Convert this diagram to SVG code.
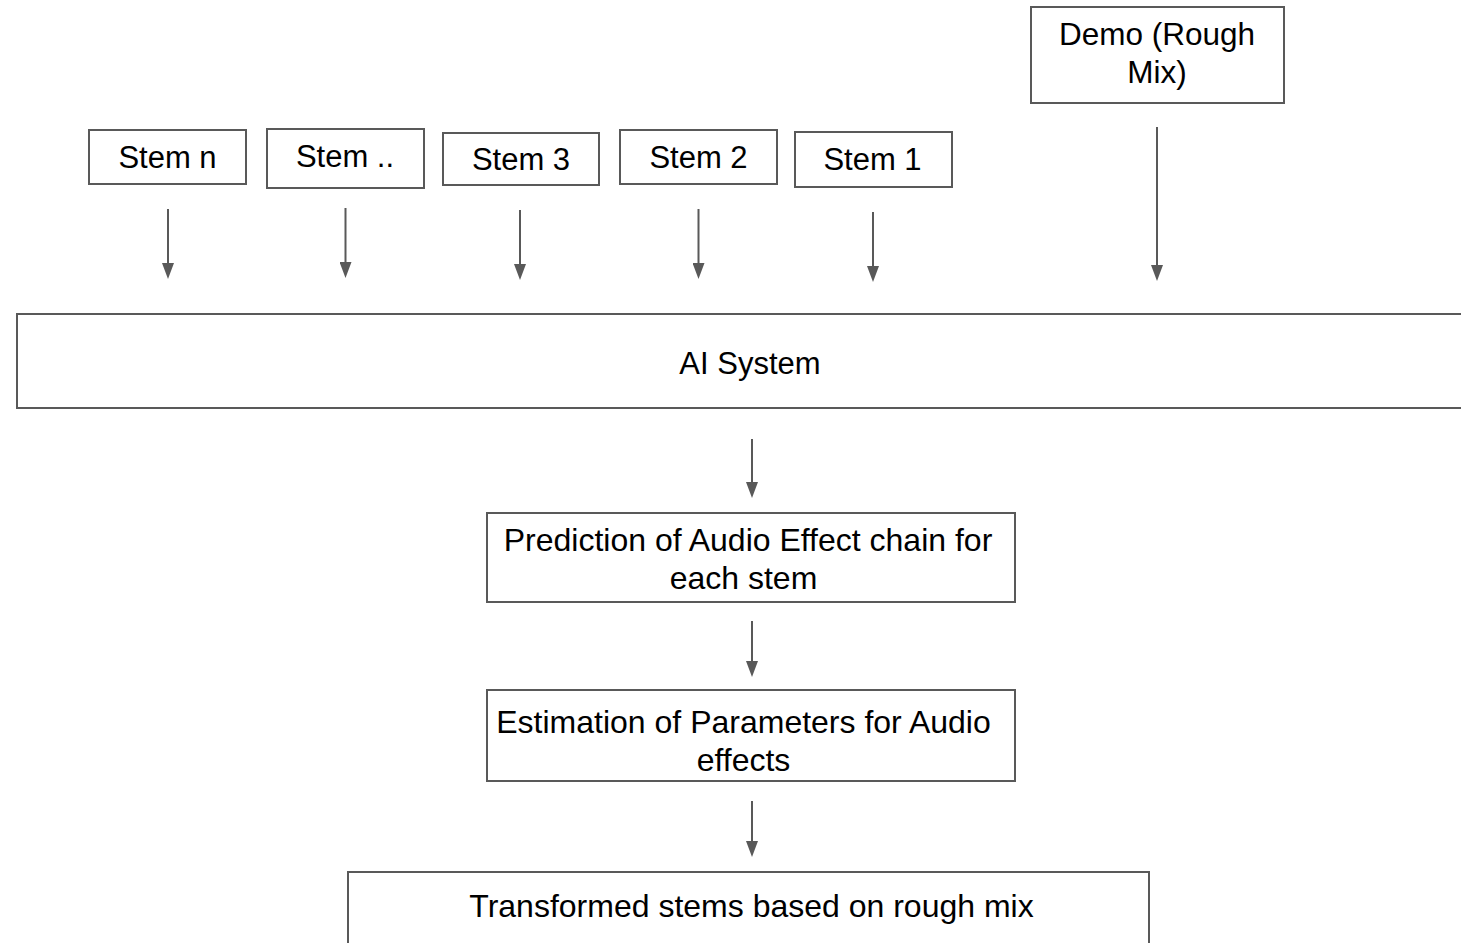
<svg xmlns="http://www.w3.org/2000/svg" width="1461" height="943" viewBox="0 0 1461 943">
<style>
.box{fill:#ffffff;stroke:#595959;stroke-width:2}
.lbl{font-family:"Liberation Sans",Arial,sans-serif;font-size:31px;fill:#000000;text-anchor:middle}
.big{font-size:32px}
.conn{stroke:#595959;stroke-width:2;fill:none}
</style>
<defs>
<marker id="ah" markerUnits="userSpaceOnUse" markerWidth="16" markerHeight="12" refX="6" refY="6" orient="auto">
<path d="M0,0 L16,6 L0,12 z" fill="#595959"/>
</marker>
</defs>
<rect width="1461" height="943" fill="#ffffff"/>
<g id="stem-n"><rect class="box" x="89" y="130" width="157" height="54"/><text class="lbl" x="167.5" y="168">Stem n</text></g>
<g id="stem-dots"><rect class="box" x="267" y="129" width="157" height="59"/><text class="lbl" x="345" y="167">Stem ..</text></g>
<g id="stem-3"><rect class="box" x="443" y="133" width="156" height="52"/><text class="lbl" x="521" y="170">Stem 3</text></g>
<g id="stem-2"><rect class="box" x="620" y="130" width="157" height="54"/><text class="lbl" x="698.5" y="168">Stem 2</text></g>
<g id="stem-1"><rect class="box" x="795" y="132" width="157" height="55"/><text class="lbl" x="872.5" y="170">Stem 1</text></g>
<g id="demo"><rect class="box" x="1031" y="7" width="253" height="96"/><text class="lbl" x="1157" y="45" style="font-size:31.5px">Demo (Rough</text><text class="lbl" x="1157" y="83" style="font-size:31.5px">Mix)</text></g>
<g id="ai-system"><rect class="box" x="17" y="314" width="1460" height="94"/><text class="lbl" x="750" y="374">AI System</text></g>
<g id="prediction"><rect class="box" x="487" y="513" width="528" height="89"/><text class="lbl big" x="748" y="551">Prediction of Audio Effect chain for</text><text class="lbl big" x="743.5" y="589">each stem</text></g>
<g id="estimation"><rect class="box" x="487" y="690" width="528" height="91"/><text class="lbl big" x="743.5" y="733">Estimation of Parameters for Audio</text><text class="lbl big" x="743.5" y="771">effects</text></g>
<g id="transformed"><rect class="box" x="348" y="872" width="801" height="80"/><text class="lbl big" x="751.5" y="917">Transformed stems based on rough mix</text></g>
<g id="connectors">
<path class="conn" d="M168,209 V269" marker-end="url(#ah)"/>
<path class="conn" d="M345.5,208 V268" marker-end="url(#ah)"/>
<path class="conn" d="M520,210 V270" marker-end="url(#ah)"/>
<path class="conn" d="M698.5,209 V269" marker-end="url(#ah)"/>
<path class="conn" d="M873,212 V272" marker-end="url(#ah)"/>
<path class="conn" d="M1157,127 V271" marker-end="url(#ah)"/>
<path class="conn" d="M752,439 V488" marker-end="url(#ah)"/>
<path class="conn" d="M752,621 V667" marker-end="url(#ah)"/>
<path class="conn" d="M752,801 V847" marker-end="url(#ah)"/>
</g>
</svg>
